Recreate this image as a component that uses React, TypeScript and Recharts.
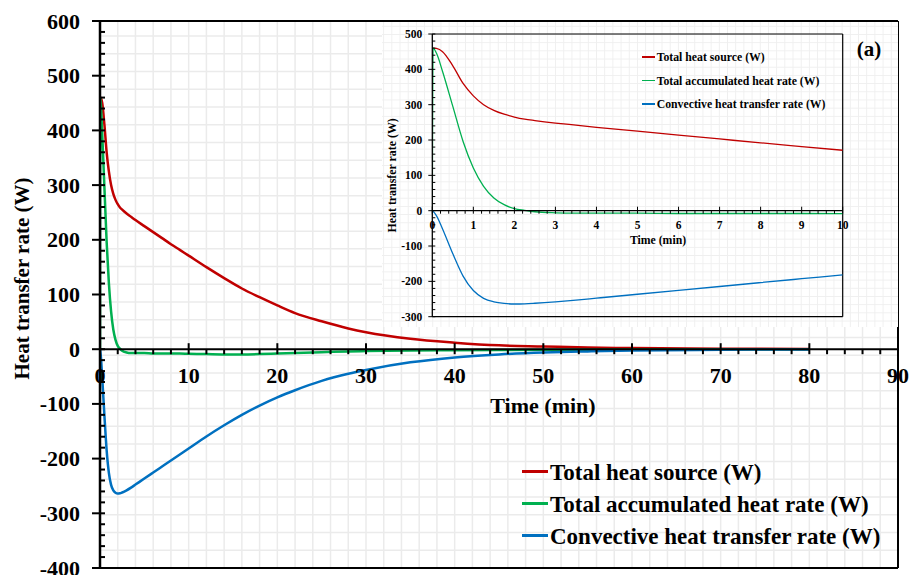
import React from "react";
import {
    LineChart,
    Line,
    XAxis,
    YAxis,
    CartesianGrid,
    ReferenceLine,
    Legend,
    Label,
} from "recharts";

// time (min) and the three heat transfer rates (W)
const timeMin = [
    0, 0.02, 0.1, 0.25, 0.5, 0.75, 1, 1.25, 1.5, 1.75,
    2, 2.25, 2.5, 3, 3.5, 4, 5, 6, 7, 8,
    9, 10, 12, 14, 16, 18, 20, 22, 25, 28,
    30, 35, 40, 45, 50, 55, 60, 70, 80,
];
const heatSource = [
    460, 460, 459, 450, 410, 360, 325, 300, 284, 273,
    265, 259, 255, 248, 242, 236, 225, 214, 203, 192,
    181.5, 171, 150, 130, 111, 95, 80, 66, 51, 38,
    31, 19, 12, 7, 5, 3, 2, 1, 0.5,
];
const accumulatedHeat = [
    0, 460, 446, 394, 295, 196, 121, 69, 36, 17,
    6, 1, -3, -6, -7, -7, -7, -8, -8, -8,
    -8, -8.5, -9, -9.5, -9.5, -9, -8, -7, -5.5, -4,
    -3.5, -2.5, -2, -1.5, -1, -0.8, -0.5, -0.3, -0.2,
];
const convectiveHeat = [
    0, -2, -14, -52, -122, -185, -226, -248, -258, -262.5,
    -264, -263.5, -262, -258, -253, -247.5, -236.5, -225.5, -214.5, -203.5,
    -192.5, -181.5, -159.5, -139, -120, -103, -88, -75, -58, -45,
    -38, -24, -15, -9.5, -6, -4, -2.5, -1, -0.5,
];

const mainXTicks = Array.from({ length: 46 }, (_, i) => i * 2);
const mainYTicks = Array.from({ length: 51 }, (_, i) => -400 + i * 20);
const insetXTicks = Array.from({ length: 51 }, (_, i) => i / 5);
const insetYTicks = Array.from({ length: 41 }, (_, i) => -300 + i * 20);

const series = [
    { key: "source", name: "Total heat source (W)", color: "#C00000" },
    { key: "accumulated", name: "Total accumulated heat rate (W)", color: "#00B050" },
    { key: "convective", name: "Convective heat transfer rate (W)", color: "#0070C0" },
];

const rows = timeMin.map((t, i) => ({
    t,
    source: heatSource[i],
    accumulated: accumulatedHeat[i],
    convective: convectiveHeat[i],
}));
const insetRows = rows.filter((r) => r.t <= 10);

const FONT = "'Liberation Serif', 'Times New Roman', serif";
const W = 909;
const H = 575;
const MAIN = { top: 21, right: 11, bottom: 7, left: 100 };
const MAIN_Y: [number, number] = [-400, 600];
const INSET_W = 516;
const INSET_H = 305;
const INSET = { top: 12, right: 55.3, bottom: 10.3, left: 50.3 };
const INSET_Y: [number, number] = [-300, 500];

// pixel row of y = 0, so the time axis can sit on the zero line
const zeroRow = (height: number, m: any, [lo, hi]: [number, number]) =>
    m.top + ((height - m.top - m.bottom) * hi) / (hi - lo);

const isMultiple = (v: number, every: number) =>
    Math.abs(v / every - Math.round(v / every)) < 1e-6;

const mainYStyle = { every: 100, out: 8, inn: 5, gap: 20, fontSize: 22, stroke: 2 };
const insetYStyle = { every: 100, out: 4, inn: 3, gap: 10, fontSize: 11.5, stroke: 1 };
const mainXStyle = { every: 10, up: 6, down: 5, gap: 26, fontSize: 22, stroke: 2 };
const insetXStyle = { every: 1, up: 4, down: 3, gap: 14, fontSize: 11.5, stroke: 1 };

const YTick = ({ x, y, payload, s }: any) => {
    const major = isMultiple(payload.value, s.every);
    return (
        <g>
            <line
                x1={major ? x - s.out : x}
                x2={x + s.inn}
                y1={y}
                y2={y}
                stroke="#000"
                strokeWidth={s.stroke}
            />
            {major && (
                <text
                    x={x - s.gap}
                    y={y}
                    textAnchor="end"
                    dominantBaseline="central"
                    fontFamily={FONT}
                    fontWeight="bold"
                    fontSize={s.fontSize}
                    fill="#000"
                >
                    {payload.value}
                </text>
            )}
        </g>
    );
};

const XTick = ({ x, y, payload, s }: any) => {
    const major = isMultiple(payload.value, s.every);
    return (
        <g>
            <line
                x1={x}
                x2={x}
                y1={major ? y - s.up : y}
                y2={y + s.down}
                stroke="#000"
                strokeWidth={s.stroke}
            />
            {major && (
                <text
                    x={x}
                    y={y + s.gap}
                    textAnchor="middle"
                    dominantBaseline="central"
                    fontFamily={FONT}
                    fontWeight="bold"
                    fontSize={s.fontSize}
                    fill="#000"
                >
                    {Math.round(payload.value)}
                </text>
            )}
        </g>
    );
};

const LegendRows = ({ fontSize, rowH, lineW, lineH }: any) => (
    <div style={{ fontFamily: FONT, fontWeight: "bold", fontSize, color: "#000" }}>
        {series.map((s) => (
            <div
                key={s.key}
                style={{ display: "flex", alignItems: "center", height: rowH, whiteSpace: "nowrap" }}
            >
                <span
                    style={{
                        display: "inline-block",
                        width: lineW,
                        height: lineH,
                        background: s.color,
                        marginRight: 2,
                        marginTop: -fontSize * 0.15,
                    }}
                />
                <span>{s.name}</span>
            </div>
        ))}
    </div>
);

const titleText = (x: number, y: number, size: number, text: string, rotate = false) => (
    <text
        x={x}
        y={y}
        textAnchor="middle"
        dominantBaseline="central"
        fontFamily={FONT}
        fontWeight="bold"
        fontSize={size}
        fill="#000"
        transform={rotate ? `rotate(-90 ${x} ${y})` : undefined}
    >
        {text}
    </text>
);

// background paper grid of the main plot
const paperVertical = ({ offset }: any) =>
    Array.from({ length: 45 }, (_, i) => offset.left + (offset.width * (i + 1)) / 45);
const paperHorizontal = ({ offset }: any) => {
    const out: number[] = [];
    for (let y = offset.top + offset.height - 17.73; y > offset.top; y -= 17.73) out.push(y);
    return out;
};

const mainZero = zeroRow(H, MAIN, MAIN_Y);
const insetZero = zeroRow(INSET_H, INSET, INSET_Y);
const MAIN_BAND = 70;
const INSET_BAND = 40;

const abs = { position: "absolute" as const, left: 0, top: 0 };

const App = () => {
    return (
        <div style={{ position: "absolute", left: 0, top: 0, width: W, height: H, background: "#fff" }}>
            <div style={abs}>
                <LineChart
                    width={W}
                    height={H}
                    data={rows}
                    margin={{ top: MAIN.top, right: MAIN.right, bottom: MAIN.bottom, left: 0 }}
                >
                    <CartesianGrid
                        stroke="#ebebeb"
                        strokeWidth={1.5}
                        verticalCoordinatesGenerator={paperVertical}
                        horizontalCoordinatesGenerator={paperHorizontal}
                    />
                    <XAxis type="number" dataKey="t" domain={[0, 90]} hide allowDataOverflow />
                    <YAxis
                        type="number"
                        domain={MAIN_Y}
                        ticks={mainYTicks}
                        interval={0}
                        width={MAIN.left}
                        tickSize={0}
                        tickMargin={0}
                        tickLine={false}
                        axisLine={{ stroke: "#000", strokeWidth: 2.5 }}
                        tick={(p: any) => <YTick {...p} s={mainYStyle} />}
                        allowDataOverflow
                    >
                        <Label
                            content={({ viewBox }: any) => {
                                const vb = viewBox || { x: 0, y: 0, width: 0, height: 0 };
                                return titleText(vb.x + 22, vb.y + vb.height / 2 - 16, 21, "Heat transfer rate (W)", true);
                            }}
                        />
                    </YAxis>
                    <ReferenceLine y={600} stroke="#000" strokeWidth={2} />
                    <ReferenceLine y={-400} stroke="#000" strokeWidth={2} />
                    <ReferenceLine x={90} stroke="#000" strokeWidth={2} />
                    <Legend
                        layout="vertical"
                        align="center"
                        verticalAlign="middle"
                        wrapperStyle={{ left: 522, top: 457, width: 370 }}
                        content={() => <LegendRows fontSize={23} rowH={32} lineW={26} lineH={2.5} />}
                    />
                    {series.map((s) => (
                        <Line
                            key={s.key}
                            type="monotone"
                            dataKey={s.key}
                            name={s.name}
                            stroke={s.color}
                            strokeWidth={2.5}
                            dot={false}
                            isAnimationActive={false}
                        />
                    ))}
                </LineChart>
            </div>

            {/* time axis hung on the zero line */}
            <div style={abs}>
                <LineChart
                    width={W}
                    height={H}
                    data={rows}
                    margin={{
                        top: MAIN.top,
                        right: MAIN.right,
                        left: MAIN.left,
                        bottom: H - mainZero - MAIN_BAND,
                    }}
                >
                    <YAxis hide domain={[0, 1]} />
                    <XAxis
                        type="number"
                        dataKey="t"
                        domain={[0, 90]}
                        ticks={mainXTicks}
                        interval={0}
                        height={MAIN_BAND}
                        tickSize={0}
                        tickMargin={0}
                        tickLine={false}
                        axisLine={{ stroke: "#000", strokeWidth: 2 }}
                        tick={(p: any) => <XTick {...p} s={mainXStyle} />}
                        allowDataOverflow
                    >
                        <Label
                            content={({ viewBox }: any) => {
                                const vb = viewBox || { x: 0, y: 0, width: 0, height: 0 };
                                return titleText(vb.x + vb.width / 2 + 44, vb.y + 56, 22, "Time (min)");
                            }}
                        />
                    </XAxis>
                </LineChart>
            </div>

            {/* inset: first 10 minutes */}
            <div
                style={{
                    position: "absolute",
                    left: 382,
                    top: 22,
                    width: INSET_W,
                    height: INSET_H,
                    backgroundColor: "#fff",
                    backgroundImage:
                        "linear-gradient(to right, #efefef 1px, transparent 1px), linear-gradient(to bottom, #efefef 1px, transparent 1px)",
                    backgroundSize: "8.2px 8.2px",
                    backgroundPosition: `${INSET.left}px ${INSET.top}px`,
                }}
            >
                <div style={abs}>
                    <LineChart
                        width={INSET_W}
                        height={INSET_H}
                        data={insetRows}
                        margin={{ top: INSET.top, right: INSET.right, bottom: INSET.bottom, left: 0 }}
                    >
                        <XAxis type="number" dataKey="t" domain={[0, 10]} hide allowDataOverflow />
                        <YAxis
                            type="number"
                            domain={INSET_Y}
                            ticks={insetYTicks}
                            interval={0}
                            width={INSET.left}
                            tickSize={0}
                            tickMargin={0}
                            tickLine={false}
                            axisLine={{ stroke: "#000", strokeWidth: 1.3 }}
                            tick={(p: any) => <YTick {...p} s={insetYStyle} />}
                            allowDataOverflow
                        >
                            <Label
                                content={({ viewBox }: any) => {
                                    const vb = viewBox || { x: 0, y: 0, width: 0, height: 0 };
                                    return titleText(vb.x + 10, vb.y + vb.height / 2, 11.9, "Heat transfer rate (W)", true);
                                }}
                            />
                        </YAxis>
                        <ReferenceLine y={500} stroke="#000" strokeWidth={1.2} />
                        <ReferenceLine y={-300} stroke="#000" strokeWidth={1.2} />
                        <ReferenceLine x={10} stroke="#000" strokeWidth={1.2} />
                        <Legend
                            layout="vertical"
                            align="center"
                            verticalAlign="middle"
                            wrapperStyle={{ left: 259.7, top: 24, width: 200 }}
                            content={() => <LegendRows fontSize={11.75} rowH={23.6} lineW={13} lineH={1.3} />}
                        />
                        {series.map((s) => (
                            <Line
                                key={s.key}
                                type="monotone"
                                dataKey={s.key}
                                name={s.name}
                                stroke={s.color}
                                strokeWidth={1.3}
                                dot={false}
                                isAnimationActive={false}
                            />
                        ))}
                    </LineChart>
                </div>
                <div style={abs}>
                    <LineChart
                        width={INSET_W}
                        height={INSET_H}
                        data={insetRows}
                        margin={{
                            top: INSET.top,
                            right: INSET.right,
                            left: INSET.left,
                            bottom: INSET_H - insetZero - INSET_BAND,
                        }}
                    >
                        <YAxis hide domain={[0, 1]} />
                        <XAxis
                            type="number"
                            dataKey="t"
                            domain={[0, 10]}
                            ticks={insetXTicks}
                            interval={0}
                            height={INSET_BAND}
                            tickSize={0}
                            tickMargin={0}
                            tickLine={false}
                            axisLine={{ stroke: "#000", strokeWidth: 1.3 }}
                            tick={(p: any) => <XTick {...p} s={insetXStyle} />}
                            allowDataOverflow
                        >
                            <Label
                                content={({ viewBox }: any) => {
                                    const vb = viewBox || { x: 0, y: 0, width: 0, height: 0 };
                                    return titleText(vb.x + vb.width / 2 + 20.5, vb.y + 30, 11.75, "Time (min)");
                                }}
                            />
                        </XAxis>
                    </LineChart>
                </div>
                <div
                    style={{
                        position: "absolute",
                        left: 470,
                        top: 14,
                        width: 34,
                        textAlign: "center",
                        fontFamily: FONT,
                        fontWeight: "bold",
                        fontSize: 21,
                        lineHeight: "26px",
                        color: "#000",
                    }}
                >
                    (a)
                </div>
            </div>
        </div>
    );
};

export default App;
